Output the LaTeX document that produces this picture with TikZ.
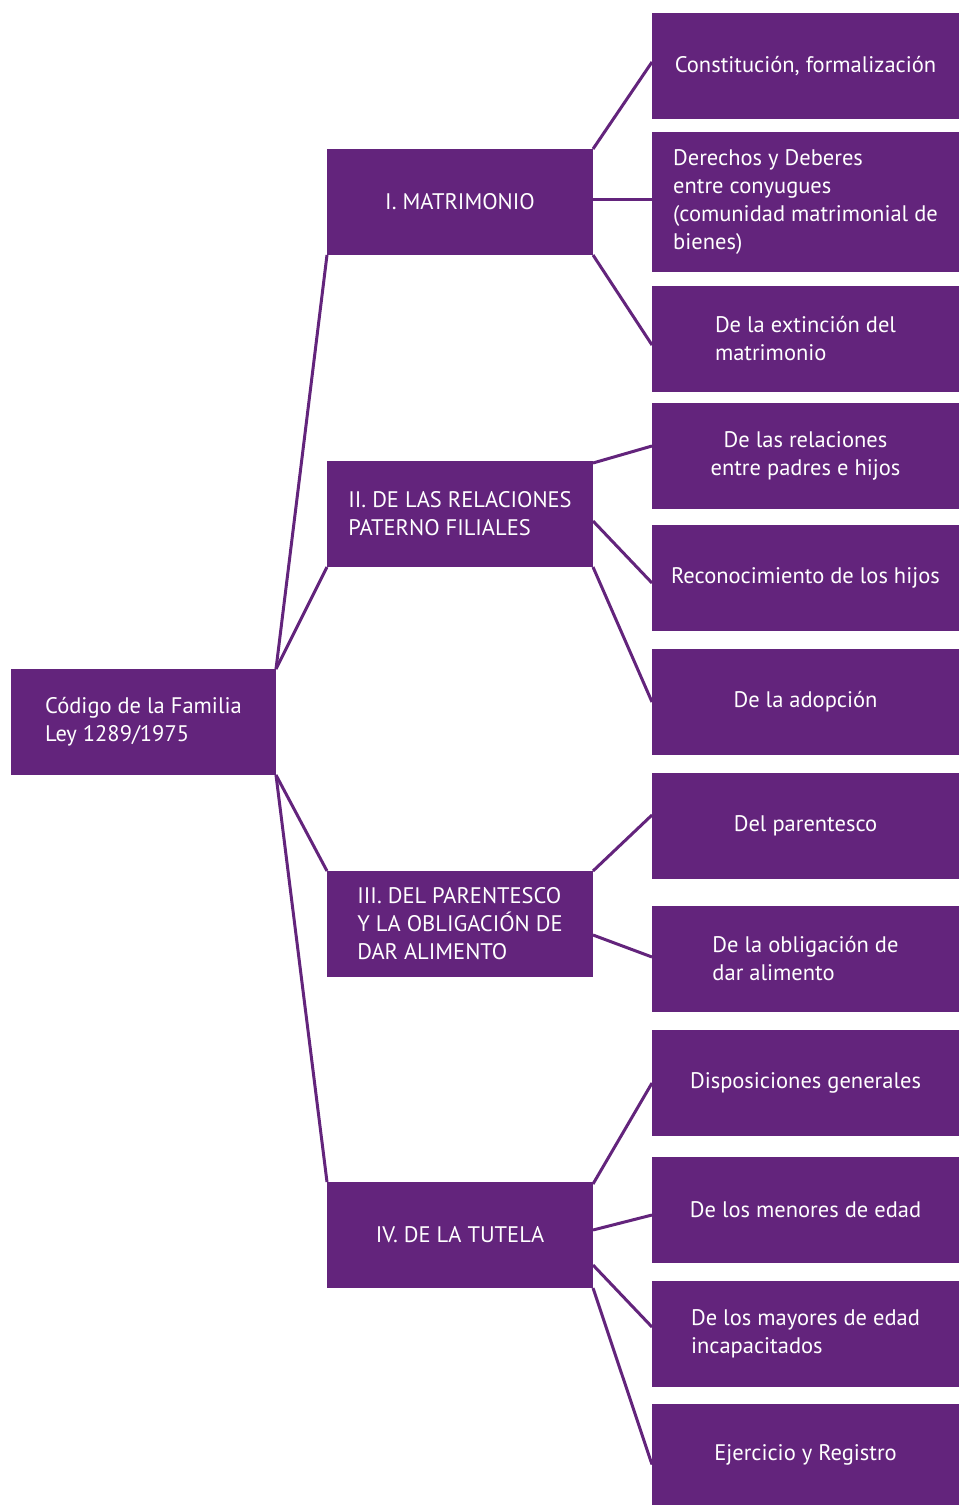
\documentclass[tikz,border=0pt]{standalone}
\usepackage{fontspec}
\setmainfont{PT Sans}
\usetikzlibrary{calc}
\definecolor{codigoPurple}{RGB}{99,36,124}

\begin{document}
\begin{tikzpicture}
[x=1pt,y=-1pt,%
  box/.style={shape=rectangle,fill=codigoPurple,text=white,inner sep=0pt,outer sep=0pt,anchor=north west,minimum height=106pt,font=\fontsize{22.5}{28}\selectfont},%
  rootBox/.style={box,minimum width=265pt},%
  midBox/.style={box,minimum width=266pt},%
  leafBox/.style={box,minimum width=307pt},%
  link/.style={-,line width=3pt,color=codigoPurple}]
\useasboundingbox (0,0) rectangle (959,1505);
%% root
\node (root) at (11,669) [rootBox,align=left] {Código de la Familia\\Ley 1289/1975};
%% middle level
\foreach \nodename/\y/\al/\txt in {m1/149/center/{I. MATRIMONIO},
  m2/461/left/{II. DE LAS RELACIONES\\PATERNO FILIALES},
  m3/871/left/{III. DEL PARENTESCO\\Y LA OBLIGACIÓN DE\\DAR ALIMENTO},
  m4/1182/center/{IV. DE LA TUTELA}}
{
  \node (\nodename) at (327,\y) [midBox,align=\al] {\txt};
}
%% leaves
\foreach \nodename/\y/\h/\al/\txt in {h1/13/106/center/{Constitución, formalización},
  h2/132/140/left/{Derechos y Deberes\\entre conyugues\\(comunidad matrimonial de\\bienes)},
  h3/286/106/left/{De la extinción del\\matrimonio},
  h4/403/106/center/{De las relaciones\\entre padres e hijos},
  h5/525/106/center/{Reconocimiento de los hijos},
  h6/649/106/center/{De la adopción},
  h7/773/106/center/{Del parentesco},
  h8/906/106/left/{De la obligación de\\dar alimento},
  h9/1030/106/center/{Disposiciones generales},
  h10/1157/106/center/{De los menores de edad},
  h11/1281/106/left/{De los mayores de edad\\incapacitados},
  h12/1404/101/center/{Ejercicio y Registro}}
{
  \node (\nodename) at (652,\y) [leafBox,minimum height=\h pt,align=\al] {\txt};
}
%% links
\foreach \a/\da/\b/\db in {root.north east/0/m1.south west/0,
  root.north east/0/m2.south west/0,
  root.south east/0/m3.north west/0,
  root.south east/0/m4.north west/0,
  m1.north east/0/h1.west/-4,
  m1.east/-3/h2.west/-3,
  m1.south east/0/h3.west/6,
  m2.north east/2/h4.west/-10,
  m2.east/7/h5.west/5,
  m2.south east/0/h6.west/0,
  m3.north east/0/h7.west/-11,
  m3.east/11/h8.west/-2,
  m4.north east/2/h9.west/0,
  m4.east/-5/h10.west/5,
  m4.east/30/h11.west/-7,
  m4.south east/0/h12.west/10}
{
  \draw[link] ($(\a)+(0,\da)$) -- ($(\b)+(0,\db)$);
}
\end{tikzpicture}
\end{document}
